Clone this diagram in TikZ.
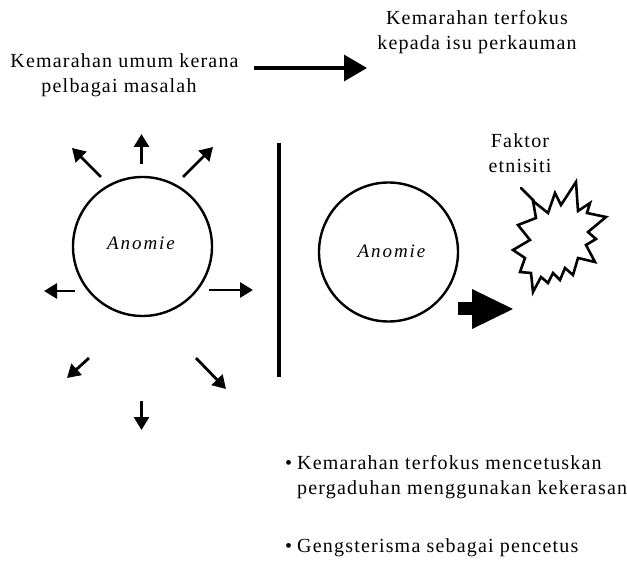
\documentclass[tikz,border=0pt]{standalone}
\usepackage{fontspec}
\setmainfont[LetterSpace=6]{Liberation Serif}
\usetikzlibrary{arrows.meta}
\tikzset{
  txt/.style={font=\fontsize{20}{25}\selectfont, inner sep=0pt, anchor=base},
  itxt/.style={font=\fontsize{19}{25}\selectfont\itshape\addfontfeature{LetterSpace=10}, inner sep=0pt, anchor=base},
  ray/.style={line width=2.8pt, -{Triangle[length=13pt,width=15pt]}},
  ring/.style={circle, draw, line width=2.4pt, minimum size=139pt, inner sep=0pt},
}
\begin{document}
\begin{tikzpicture}[x=1pt,y=-1pt]
\useasboundingbox (0,0) rectangle (627,564);
% top texts
\node[txt] (t1a) at (477,25) {Kemarahan terfokus};
\node[txt] (t1b) at (477,50) {kepada isu perkauman};
\node[txt] (t2a) at (124.5,68) {Kemarahan umum kerana};
\node[txt] (t2b) at (119,93) {pelbagai masalah};
\coordinate (ta) at (254,68);
\coordinate (tb) at (367,68);
\draw[line width=3.2pt, -{Triangle[length=23pt,width=26pt]}] (ta) -- (tb);
% left anomie
\node[ring] (c1) at (142.5,246.5) {};
\node[itxt] (a1) at (141,250) {Anomie};
\draw[ray] (141.5,164) -- (141.5,134);
\draw[ray] (101,177) -- (72,148);
\draw[ray] (183,177) -- (213,147);
\draw[ray] (75,291) -- (44,291);
\draw[ray] (209,290) -- (253,290);
\draw[ray] (89,358) -- (67,378);
\draw[ray] (196,358) -- (226,389);
\draw[ray] (141.5,401) -- (141.5,430);
% divider
\draw[line width=3.2pt] (279,143) -- (279,377);
% right anomie
\node[ring] (c2) at (388.5,252) {};
\node[itxt] (a2) at (391.5,257.5) {Anomie};
% block arrow
\fill (458,302) rectangle (473,315);
\fill (472,289) -- (513,309) -- (472,329) -- cycle;
% factor label and star
\node[txt] (f1) at (520,148) {Faktor};
\node[txt] (f2) at (520,173) {etnisiti};
\draw[line width=2.6pt, line join=miter, fill=white]
 (533,201) -- (548,213) -- (555,193) -- (561,205) -- (576,182) -- (578,211) -- (590,203) -- (587,213) -- (606,217) -- (588,232) -- (596,239) -- (586,245) -- (595,262) -- (578,258) -- (573,275) -- (565,268) -- (560,280) -- (553,273) -- (548,283) -- (541,277) -- (533,292) -- (531,273) -- (520,272) -- (525,258) -- (513,250) -- (530,240) -- (518,225) -- (536,218) -- cycle;
\draw[line width=2.6pt, line cap=round] (521,188) -- (534,201);
% bullets
\node[txt, anchor=base west] (b1) at (285,469.5) {\textbullet};
\node[txt, anchor=base west] (l1) at (297,469.5) {Kemarahan terfokus mencetuskan};
\node[txt, anchor=base west] (l2) at (297,494) {pergaduhan menggunakan kekerasan};
\node[txt, anchor=base west] (b2) at (285,552) {\textbullet};
\node[txt, anchor=base west] (l3) at (297,552) {Gengsterisma sebagai pencetus};
\end{tikzpicture}
\end{document}
